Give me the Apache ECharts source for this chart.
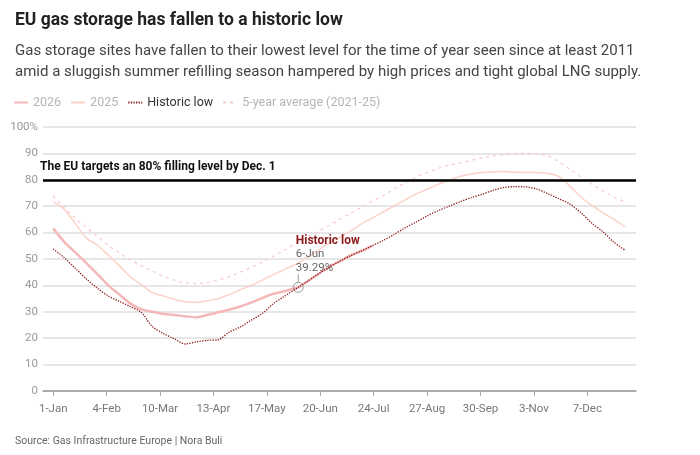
<!DOCTYPE html>
<html><head><meta charset="utf-8">
<script src="https://cdn.jsdelivr.net/npm/echarts@6/dist/echarts.min.js"></script>
<style>html,body{margin:0;padding:0;background:#fff}#c{width:700px;height:455px}</style>
</head><body><div id="c"></div>
<script>
// Day of year (0 = 1-Jan)
const days = [0,7,14,21,28,35,42,49,56,63,70,77,84,91,98,105,112,119,126,133,140,147,156,161,168,175,182,189,196,203,
  210,217,224,231,238,245,252,259,266,273,280,287,294,301,308,315,322,329,336,343,350,357,364];
const storage2026 = [61.6,56.5,52.5,48.5,44.4,40,36.6,33.2,31,30,29.2,28.8,28.3,27.9,28.8,29.8,30.8,32,33.5,35.2,36.8,37.8,39.29,41.2,44,46.7,49,51.2,53,55];
const storage2025 = [71.7,68.8,63.5,58,55.3,51.5,47.5,43.3,40.3,37.3,36,34.8,33.8,33.6,34.2,35,36.5,38.3,40,42,44,46,48.5,50.3,53,55.8,58,60.5,63.2,65.5,
  67.8,70.1,72.4,74.6,76.4,78.3,79.8,81.3,82.2,82.8,83,83.1,82.9,82.8,82.8,82.4,81.2,77.5,73.4,70.2,67.5,65,62.2];
const historicLow = [53.8,50.5,46.5,42.5,39,36,34,32,29.8,24.5,21.8,19.8,17.8,18.6,19.2,19.4,22.3,24.2,26.8,29.3,33,35.8,39.29,41.2,44,46.7,49,51.2,53,55,
  57,59.3,61.8,64,66.3,68.3,70,71.7,73.2,74.5,76,77.1,77.4,77.3,76.5,74.7,72.8,70.8,67.5,63.5,60.3,56.3,53.4];
const fiveYearAvg = [73.9,69.5,65.5,62,58.5,55.2,52.3,49.8,47.5,45.5,43.5,42,41,40.8,41,42,43.3,45,46.8,48.8,51,53.3,56.3,58,60.3,62.5,64.8,67.2,69.5,71.8,
  74,76.5,78.8,81,82.7,84.3,85.5,86.3,87.3,88.3,89,89.5,89.9,90,89.8,89,86.8,84,81,78.3,75.8,73.5,71.6];
const tickDays = [0,34,68,102,136,170,204,238,272,306,340];
const tickLabels = ['1-Jan','4-Feb','10-Mar','13-Apr','17-May','20-Jun','24-Jul','27-Aug','30-Sep','3-Nov','7-Dec'];
const annoDay = 156, annoValue = 39.29, annoDate = '6-Jun';
const targetValue = 80;

const FONT = 'Roboto, "Open Sans", sans-serif';
function zip(vals){ return vals.map((v,i)=>[days[i], v]); }

const chart = echarts.init(document.getElementById('c'), null, {renderer:'canvas'});
chart.setOption({
  animation:false,
  textStyle:{fontFamily:FONT},
  title:[
    {text:'EU gas storage has fallen to a historic low', left:10, top:7,
      textStyle:{fontSize:17.5, fontWeight:'bold', color:'#222', fontFamily:FONT}},
    {text:'Gas storage sites have fallen to their lowest level for the time of year seen since at least 2011\namid a sluggish summer refilling season hampered by high prices and tight global LNG supply.',
      left:10, top:36, textStyle:{fontSize:15, fontWeight:'normal', color:'#444', lineHeight:21, fontFamily:FONT}},
    {text:'Source: Gas Infrastructure Europe | Nora Buli', left:10, top:431,
      textStyle:{fontSize:10.5, fontWeight:'normal', color:'#666', fontFamily:FONT}}
  ],
  legend:{
    left:8, top:91, itemWidth:14, itemHeight:10, itemGap:9,
    itemStyle:{opacity:0},
    textStyle:{fontSize:12.5, color:'#b5b5b5', fontFamily:FONT},
    data:[
      {name:'2026'},
      {name:'2025'},
      {name:'Historic low', textStyle:{color:'#333'}},
      {name:'5-year average (2021-25)'}
    ]
  },
  grid:{left:43, right:64, top:127, bottom:64},
  xAxis:{
    type:'value', min:-6.5, max:371,
    axisLine:{show:true, lineStyle:{color:'#999', width:1.5}},
    axisTick:{show:true, customValues:tickDays, length:5, lineStyle:{color:'#aaa'}},
    axisLabel:{customValues:tickDays, margin:12, color:'#777', fontSize:11.5,
      formatter:v=>{const i=tickDays.indexOf(Math.round(v)); return i>=0?tickLabels[i]:'';}},
    splitLine:{show:false}
  },
  yAxis:{
    type:'value', min:0, max:100, interval:10,
    axisLine:{show:false}, axisTick:{show:false},
    axisLabel:{margin:5, color:'#999', fontSize:11.5, formatter:v=>v===100?'100%':String(v)},
    splitLine:{lineStyle:{color:'#dedede', width:1.5}}
  },
  series:[
    {name:'5-year average (2021-25)', type:'line', data:zip(fiveYearAvg), symbol:'none', smooth:0.3,
      lineStyle:{color:'#f6c9c9', width:1.2, type:[3,4]}, itemStyle:{color:'#f6c9c9'}, z:2},
    {name:'2025', type:'line', data:zip(storage2025), symbol:'none', smooth:0.3,
      lineStyle:{color:'#fbd3c9', width:1.5}, itemStyle:{color:'#fbd3c9'}, z:3},
    {name:'2026', type:'line', data:zip(storage2026), symbol:'none', smooth:0.3,
      lineStyle:{color:'#f5b8b8', width:2.5}, itemStyle:{color:'#f5b8b8'}, z:4},
    {name:'Historic low', type:'line', data:zip(historicLow), symbol:'none', smooth:0.3,
      lineStyle:{color:'#8e1c1c', width:1.3, type:[1.3,1.3]}, itemStyle:{color:'#8e1c1c'}, z:5,
      markLine:{silent:true, symbol:'none', animation:false,
        lineStyle:{color:'#000', width:2.5, type:'solid'},
        label:{show:true, position:'insideStartTop', distance:[-3,7], color:'#111', fontWeight:'bold', fontSize:12, fontFamily:FONT,
          formatter:'The EU targets an 80% filling level by Dec. 1'},
        data:[{yAxis:targetValue}]},
      markPoint:{silent:true, animation:false,
        data:[
          {coord:[annoDay, annoValue], symbol:'circle', symbolSize:10,
            itemStyle:{color:'rgba(255,255,255,0)', borderColor:'#999', borderWidth:1},
            label:{show:true, position:[3,-48], align:'left',
              formatter:'{a|Historic low}\n{b|'+annoDate+'}\n{b|'+annoValue.toFixed(2)+'%}',
              rich:{a:{fontWeight:'bold', color:'#8b1a1a', fontSize:12, lineHeight:14, fontFamily:FONT},
                    b:{color:'#666', fontSize:11.5, lineHeight:13.5, fontFamily:FONT}}}},
          {coord:[annoDay, annoValue], symbol:'rect', symbolSize:[1,8], symbolOffset:[0,-9],
            itemStyle:{color:'#999'}, label:{show:false}}
        ]}
    }
  ]
});
</script></body></html>
